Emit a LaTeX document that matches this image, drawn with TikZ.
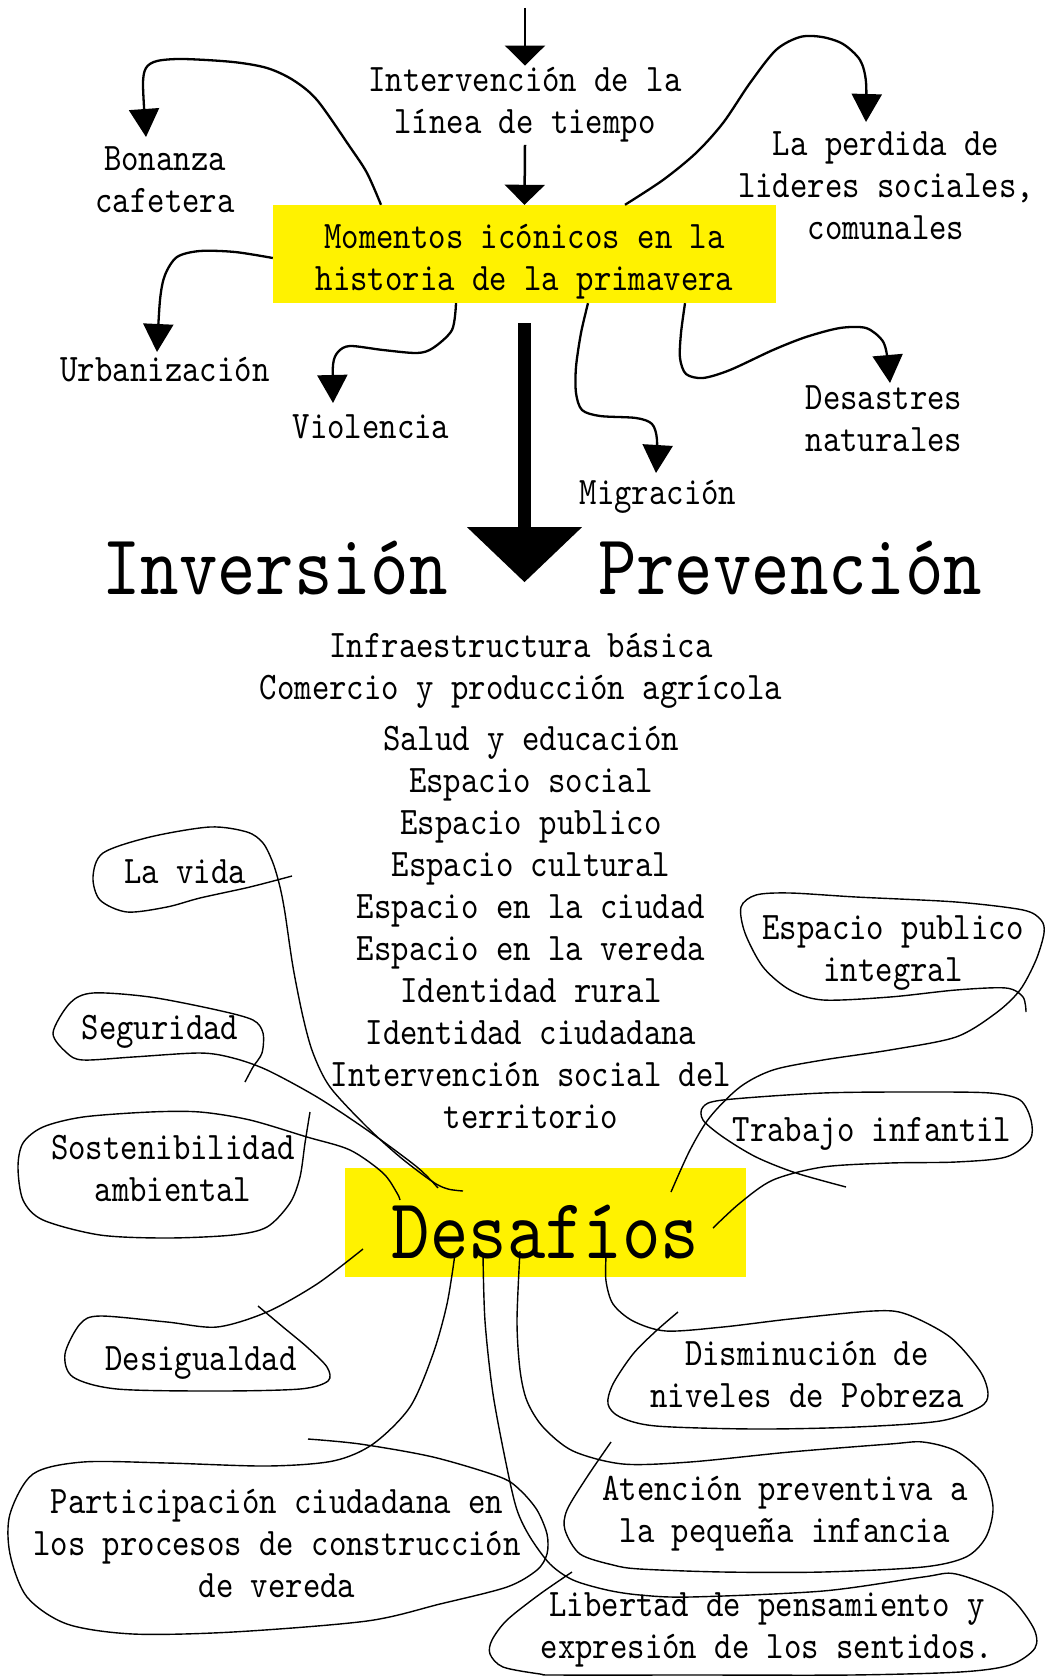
\documentclass[tikz,border=0pt]{standalone}
\usepackage{fontspec}
\newfontfamily\letra{lmmono10-regular.otf}[FakeStretch=0.85]
\usetikzlibrary{arrows.meta}

\begin{document}
\begin{tikzpicture}[x=1pt, y=-1pt,
  every node/.style={font=\letra\fontsize{39}{42}\selectfont, align=center, inner sep=2pt},
  grande/.style={font=\letra\fontsize{86}{90}\selectfont},
  caja/.style={fill=yellow, inner sep=0pt},
  flecha/.style={line width=2.3pt, -{Triangle[width=30pt,length=28pt]}},
  flechita/.style={line width=2.5pt, -{Triangle[width=40pt,length=20pt]}},
  lazo/.style={line width=1.4pt}]
  \useasboundingbox (0,0) rectangle (1046,1677);

  \node[caja, minimum width=503pt, minimum height=98pt, text height=78pt, text depth=5pt] (momentos) at (524.5,254) {Momentos icónicos en la\\historia de la primavera};
  \node[anchor=base] (linea) at (525,134) {Intervención de la\\línea de tiempo};
  \node[anchor=base] (bonanza) at (165,213) {Bonanza\\cafetera};
  \node[anchor=base] (urbanizacion) at (165,381) {Urbanización};
  \node[anchor=base] (violencia) at (371,438) {Violencia};
  \node[anchor=base] (perdida) at (886,240) {La perdida de\\lideres sociales,\\comunales};
  \node[anchor=base] (migracion) at (658,504) {Migración};
  \node[anchor=base] (desastres) at (884,451) {Desastres\\naturales};

  \coordinate (inicio) at (525,8);
  \draw[flechita] (inicio) -- (linea.north);
  \draw[flechita] (linea.south) -- (momentos.north);

  \coordinate (bon0) at ([xshift=-143.5pt]momentos.north);
  \coordinate (bon1) at (146,137);
  \coordinate (urb0) at ([yshift=-4pt]momentos.west);
  \coordinate (urb1) at (157,352);
  \coordinate (vio0) at ([xshift=-68.5pt]momentos.south);
  \coordinate (vio1) at (333,403);
  \coordinate (per0) at ([xshift=100.5pt]momentos.north);
  \coordinate (per1) at (866,122);
  \coordinate (mig0) at ([xshift=63.5pt]momentos.south);
  \coordinate (mig1) at (656,473);
  \coordinate (des0) at ([xshift=160.5pt]momentos.south);
  \coordinate (des1) at (890,383);
  \draw[flecha] plot[smooth] coordinates {(bon0) (367,173) (350,147) (317,100) (293,80) (267,68) (233,62) (183,59) (157,61) (146,68) (143,85) (bon1)};
  \draw[flecha] plot[smooth] coordinates {(urb0) (235,252) (200,251) (177,257) (165,275) (160,300) (urb1)};
  \draw[flecha] plot[smooth] coordinates {(vio0) (452,330) (433,348) (417,353) (383,350) (350,346) (338,352) (333,365) (vio1)};
  \draw[flecha] plot[smooth] coordinates {(per0) (663,180) (696,153) (723,123) (750,83) (776,50) (800,37) (822,37) (843,44) (860,60) (866,82) (per1)};
  \draw[flecha] plot[smooth] coordinates {(mig0) (581,333) (576,367) (576,393) (582,410) (600,416) (636,418) (652,424) (657,440) (mig1)};
  \draw[flecha] plot[smooth] coordinates {(des0) (681,333) (680,358) (686,374) (703,378) (730,370) (773,350) (806,337) (840,328) (866,328) (882,340) (887,355) (des1)};

  \draw[line width=12.5pt, -{Triangle[width=112pt,length=55pt]}] ([yshift=-20pt]momentos.south) -- ++(0,259);
  \node[grande, anchor=base] (inversion) at (275,594) {Inversión};
  \node[grande, anchor=base] (prevencion) at (790,594) {Prevención};
  \node[anchor=base] (infra) at (521,699) {Infraestructura básica\\Comercio y producción agrícola};
  \node[anchor=base] (espacios) at (531,1128) {Salud y educación\\Espacio social\\Espacio publico\\Espacio cultural\\Espacio en la ciudad\\Espacio en la vereda\\Identidad rural\\Identidad ciudadana\\Intervención social del\\territorio};

  \node[caja, grande, minimum width=401pt, minimum height=109pt, text height=72pt, text depth=0pt] (desafios) at (545.5,1222.5) {Desafíos};
  \node[anchor=base] (vida) at (185,883) {La vida};
  \node[anchor=base] (seguridad) at (160,1039) {Seguridad};
  \node[anchor=base] (sostenibilidad) at (173,1201) {Sostenibilidad\\ambiental};
  \node[anchor=base] (desigualdad) at (201,1370) {Desigualdad};
  \node[anchor=base] (participacion) at (277,1597) {Participación ciudadana en\\los procesos de construcción\\de vereda};
  \node[anchor=base] (integral) at (893,981) {Espacio publico\\integral};
  \node[anchor=base] (trabajo) at (872,1141) {Trabajo infantil};
  \node[anchor=base] (disminucion) at (807,1407) {Disminución de\\niveles de Pobreza};
  \node[anchor=base] (atencion) at (785,1542) {Atención preventiva a\\la pequeña infancia};
  \node[anchor=base] (libertad) at (767,1658) {Libertad de pensamiento y\\expresión de los sentidos.};

  \coordinate (vida-d) at (463,1191);
  \coordinate (seg-d) at (438,1188);
  \coordinate (sos-d) at (400,1200);
  \coordinate (desi-d) at (363,1249);
  \coordinate (par-d) at (455,1254);
  \coordinate (lib-d) at (483,1254);
  \coordinate (ate-d) at (520,1251);
  \coordinate (dis-d) at (606,1257);
  \coordinate (int-d) at (671,1192);
  \coordinate (tra-d) at (713,1228);
  \draw[lazo] plot[smooth] coordinates {(292,876) (250,887) (200,898) (167,907) (127,912) (100,900) (93,877) (103,853) (150,837) (210,827) (247,832) (263,843) (273,863) (280,887) (285,913) (293,967) (303,1017) (313,1053) (330,1087) (367,1127) (400,1157) (433,1182) (448,1189) (vida-d)};
  \draw[lazo] plot[smooth] coordinates {(245,1082) (253,1067) (262,1053) (263,1033) (253,1020) (217,1010) (150,997) (93,993) (70,1003) (53,1033) (67,1053) (83,1060) (133,1057) (200,1053) (233,1058) (267,1070) (317,1097) (367,1130) (417,1167) (seg-d)};
  \draw[lazo] plot[smooth] coordinates {(310,1112) (305,1143) (300,1177) (290,1203) (267,1227) (233,1235) (167,1238) (100,1235) (43,1220) (23,1200) (18,1167) (23,1143) (43,1127) (83,1117) (150,1112) (200,1112) (250,1120) (307,1137) (350,1150) (383,1173) (397,1193) (sos-d)};
  \draw[lazo] plot[smooth] coordinates {(desi-d) (317,1284) (267,1312) (217,1327) (167,1322) (100,1316) (80,1324) (65,1354) (73,1377) (117,1389) (217,1391) (300,1389) (328,1381) (327,1367) (307,1347) (283,1327) (258,1306)};
  \draw[lazo] plot[smooth] coordinates {(par-d) (447,1304) (433,1354) (410,1407) (373,1444) (333,1461) (267,1466) (167,1463) (83,1462) (33,1474) (10,1514) (10,1554) (27,1597) (67,1624) (133,1634) (233,1632) (367,1621) (440,1604) (507,1587) (537,1570) (547,1554) (547,1534) (537,1510) (520,1490) (500,1477) (433,1457) (360,1444) (308,1439)};
  \draw[lazo] plot[smooth] coordinates {(lib-d) (485,1321) (493,1394) (507,1468) (517,1510) (530,1537) (550,1564) (573,1580) (607,1590) (640,1595) (690,1597) (823,1591) (923,1577) (956,1574) (1006,1594) (1033,1627) (1035,1648) (1010,1665) (960,1672) (850,1675) (700,1675) (557,1675) (540,1674) (503,1667) (490,1654) (492,1640) (507,1620) (540,1594) (572,1572)};
  \draw[lazo] plot[smooth] coordinates {(ate-d) (517,1321) (520,1370) (527,1401) (543,1427) (573,1451) (623,1464) (690,1462) (790,1452) (890,1444) (923,1442) (956,1451) (983,1474) (993,1507) (986,1537) (966,1557) (923,1567) (823,1572) (723,1572) (640,1569) (613,1565) (580,1554) (565,1530) (567,1510) (587,1477) (611,1442)};
  \draw[lazo] plot[smooth] coordinates {(dis-d) (606,1281) (613,1304) (633,1321) (666,1331) (723,1327) (790,1319) (873,1311) (906,1314) (950,1337) (980,1371) (988,1394) (980,1407) (940,1421) (856,1427) (756,1429) (656,1426) (620,1417) (608,1404) (613,1384) (633,1354) (656,1331) (678,1312)};
  \draw[lazo] plot[smooth] coordinates {(int-d) (690,1150) (710,1117) (740,1087) (773,1070) (823,1060) (890,1050) (956,1037) (996,1013) (1020,990) (1036,960) (1044,933) (1041,920) (1023,910) (956,902) (856,897) (790,893) (756,895) (741,907) (745,933) (763,967) (790,990) (823,1000) (890,997) (956,990) (1006,988) (1023,997) (1026,1012)};
  \draw[lazo] plot[smooth] coordinates {(tra-d) (740,1203) (773,1180) (823,1167) (890,1163) (956,1162) (1006,1157) (1030,1140) (1031,1120) (1020,1100) (990,1093) (923,1092) (823,1093) (723,1100) (703,1107) (703,1120) (723,1137) (756,1157) (796,1173) (846,1187)};
\end{tikzpicture}
\end{document}
